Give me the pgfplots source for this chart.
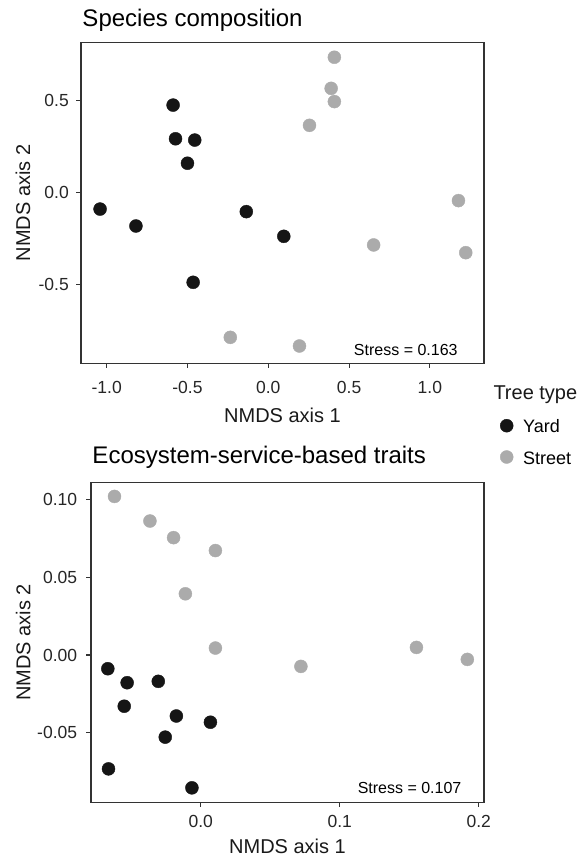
\documentclass[border=0pt]{standalone}
\usepackage{fontspec}
\setmainfont{Liberation Sans}
\usepackage{pgfplots}
\pgfplotsset{compat=1.18}

\definecolor{yard}{HTML}{151515}
\definecolor{street}{HTML}{ABABAB}
\definecolor{frame}{HTML}{333333}

\newcommand{\fs}[1]{\fontsize{#1}{#1}\selectfont}

\pgfplotsset{
  nmds/.style={
    scale only axis,
    axis line style={frame, line width=1.1pt},
    tick style={frame, line width=1.1pt},
    tick align=outside,
    major tick length=4.5pt,
    xtick pos=bottom, ytick pos=left,
    minor tick num=0,
    tick label style={font=\fs{17.5}, text=black!85, inner sep=0pt},
    xticklabel style={anchor=north},
    yticklabel style={anchor=east},
    title style={font=\fs{24}, anchor=base west, inner sep=0pt, at={(0,1)}},
    clip=false,
  },
  yardpts/.style={only marks, mark=*, mark size=6.5pt, color=yard, fill=yard, draw=yard},
  streetpts/.style={only marks, mark=*, mark size=6.5pt, color=street, fill=street, draw=street},
}

\begin{document}
\begin{tikzpicture}
\useasboundingbox (0,0) rectangle (579pt,857pt);

% Species composition
\begin{axis}[nmds,
  at={(81pt,493.7pt)}, anchor=south west,
  width=403pt, height=320.6pt,
  xmin=-1.159, xmax=1.335, ymin=-0.929, ymax=0.813,
  xtick={-1,-0.5,0,0.5,1}, xticklabels={-1.0,-0.5,0.0,0.5,1.0},
  ytick={-0.5,0,0.5}, yticklabels={-0.5,0.0,0.5},
  xticklabel style={yshift=-13pt},
  yticklabel style={xshift=-7.5pt},
  title={Species composition},
  title style={yshift=10.7pt, xshift=1.3pt},
  xlabel={NMDS axis 1}, ylabel={NMDS axis 2},
  every axis x label/.style={at={(axis description cs:0.5,-0.185)}, anchor=base,
    font=\fs{20}, text=black!90, inner sep=0pt},
  every axis y label/.style={at={(axis description cs:-0.1439,0.5)}, rotate=90, anchor=center,
    font=\fs{20}, text=black!90, inner sep=0pt},
  legend cell align=left,
  legend style={draw=none, fill=none, inner sep=0pt, outer sep=0pt,
    at={(1.0402,-0.1666)}, anchor=north west,
    font=\fs{18}, row sep=13.3pt, column sep=10pt,
    nodes={inner sep=0pt, text height=16pt, text depth=2pt}},
  legend image code/.code={\draw[#1] plot coordinates {(0pt,0pt)};},
]
\addplot[yardpts] coordinates {
  (-0.589,0.474) (-0.574,0.291) (-0.455,0.284) (-0.500,0.158) (-1.041,-0.091)
  (-0.819,-0.183) (-0.136,-0.105) (0.096,-0.239) (-0.465,-0.489)
};
\addlegendentry{Yard}
\addplot[streetpts] coordinates {
  (0.409,0.734) (0.389,0.565) (0.409,0.493) (0.255,0.364) (1.177,-0.045)
  (0.652,-0.286) (1.222,-0.328) (-0.235,-0.788) (0.193,-0.835)
};
\addlegendentry{Street}
\node[anchor=base east, font=\fs{16}, inner sep=0pt] at (rel axis cs:0.935,0.0228) {Stress = 0.163};
\node[anchor=base west, font=\fs{20}, inner sep=0pt, text=black!90] at (rel axis cs:1.0231,-0.1123) {Tree type};
\end{axis}

% Ecosystem-service-based traits
\begin{axis}[nmds,
  at={(91pt,54.7pt)}, anchor=south west,
  width=393pt, height=320pt,
  xmin=-0.0789, xmax=0.2038, ymin=-0.0947, ymax=0.1111,
  xtick={0,0.1,0.2}, xticklabels={0.0,0.1,0.2},
  ytick={-0.05,0,0.05,0.1}, yticklabels={-0.05,0.00,0.05,0.10},
  xticklabel style={yshift=-7.8pt},
  yticklabel style={xshift=-9.2pt},
  title={Ecosystem-service-based traits},
  title style={yshift=12.5pt, xshift=1.3pt},
  xlabel={NMDS axis 1}, ylabel={NMDS axis 2},
  every axis x label/.style={at={(axis description cs:0.5,-0.1606)}, anchor=base,
    font=\fs{20}, text=black!90, inner sep=0pt},
  every axis y label/.style={at={(axis description cs:-0.1723,0.5)}, rotate=90, anchor=center,
    font=\fs{20}, text=black!90, inner sep=0pt},
]
\addplot[yardpts] coordinates {
  (-0.0668,-0.0088) (-0.0529,-0.0178) (-0.0305,-0.0169) (-0.0550,-0.0329) (-0.0175,-0.0392)
  (0.0070,-0.0432) (-0.0255,-0.0528) (-0.0663,-0.0732) (-0.0063,-0.0854)
};
\addplot[streetpts] coordinates {
  (-0.0620,0.1020) (-0.0365,0.0862) (-0.0195,0.0755) (0.0106,0.0672) (-0.0110,0.0394)
  (0.0106,0.0045) (0.0721,-0.0073) (0.1552,0.0049) (0.1918,-0.0028)
};
\node[anchor=base east, font=\fs{16}, inner sep=0pt] at (rel axis cs:0.943,0.026) {Stress = 0.107};
\end{axis}
\end{tikzpicture}
\end{document}
